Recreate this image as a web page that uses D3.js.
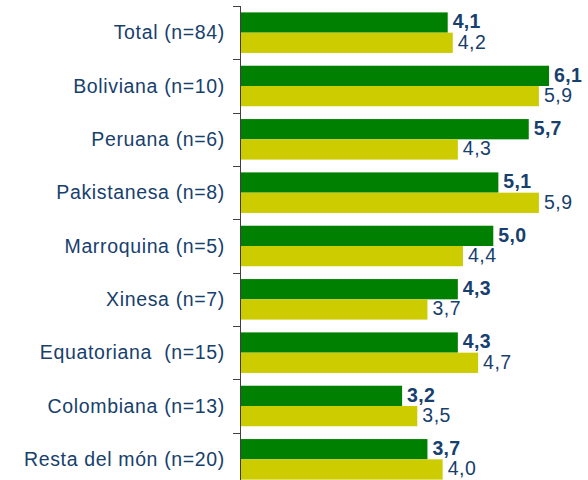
<!DOCTYPE html>
<html>
<head>
<meta charset="utf-8">
<script src="https://cdn.jsdelivr.net/npm/d3@7"></script>
<style>
  body { margin: 0; background: #fff; }
  text { font-family: "Liberation Sans", Arial, sans-serif; white-space: pre; }
</style>
</head>
<body>
<svg id="chart" width="588" height="480"></svg>
<script>
'use strict';

var categories = ["Total (n=84)", "Boliviana (n=10)", "Peruana (n=6)", "Pakistanesa (n=8)",
    "Marroquina (n=5)", "Xinesa (n=7)", "Equatoriana  (n=15)", "Colombiana (n=13)",
    "Resta del món (n=20)"];
var seriesA = [4.1, 6.1, 5.7, 5.1, 5.0, 4.3, 4.3, 3.2, 3.7];
var seriesB = [4.2, 5.9, 4.3, 5.9, 4.4, 3.7, 4.7, 3.5, 4.0];

var green = "#008000";
var yellow = "#cccc00";
var textColor = "#17406d";

var svg = d3.select("#chart");
var x0 = 240;

var x = d3.scaleLinear().domain([0, 7]).range([x0, x0 + 7 * 50.66]);
var y = d3.scaleBand().domain(categories).range([6, 486])
    .paddingInner(0.24).paddingOuter(0.12);
var sub = d3.scaleBand().domain(["a", "b"]).range([0, y.bandwidth()]);

var fmt = function(v) { return v.toFixed(1).replace(".", ","); };

var rows = categories.map(function(c, i) {
    return { cat: c, a: seriesA[i], b: seriesB[i] };
});

var g = svg.selectAll("g.row").data(rows).enter().append("g")
    .attr("class", "row")
    .attr("transform", function(d) { return "translate(0," + y(d.cat) + ")"; });

g.append("rect")
    .attr("x", x0).attr("y", sub("a"))
    .attr("width", function(d) { return x(d.a) - x0; })
    .attr("height", sub.bandwidth())
    .attr("fill", green);

g.append("rect")
    .attr("x", x0).attr("y", sub("b"))
    .attr("width", function(d) { return x(d.b) - x0; })
    .attr("height", sub.bandwidth())
    .attr("fill", yellow);

g.append("text")
    .attr("x", function(d) { return x(d.a) + 5; })
    .attr("y", sub("a") + sub.bandwidth() / 2 - 1)
    .attr("dy", "0.35em")
    .attr("font-size", 19.5).attr("font-weight", "bold")
    .attr("letter-spacing", 0.3)
    .attr("fill", textColor)
    .text(function(d) { return fmt(d.a); });

g.append("text")
    .attr("x", function(d) { return x(d.b) + 5; })
    .attr("y", sub("b") + sub.bandwidth() / 2 - 1)
    .attr("dy", "0.35em")
    .attr("font-size", 19.5)
    .attr("letter-spacing", 0.5)
    .attr("fill", textColor)
    .text(function(d) { return fmt(d.b); });

g.append("text")
    .attr("x", 225)
    .attr("y", y.bandwidth() / 2)
    .attr("dy", "0.35em")
    .attr("text-anchor", "end")
    .attr("font-size", 19.5)
    .attr("letter-spacing", 0.65)
    .attr("fill", textColor)
    .text(function(d) { return d.cat; });

// category axis line and ticks at band boundaries
svg.append("line")
    .attr("x1", x0 + 0.5).attr("x2", x0 + 0.5)
    .attr("y1", 6).attr("y2", 486)
    .attr("stroke", "#404040").attr("stroke-width", 1);

var ticks = d3.range(categories.length + 1).map(function(i) { return 6 + i * y.step(); });
svg.selectAll("line.tick").data(ticks).enter().append("line")
    .attr("class", "tick")
    .attr("x1", x0 - 7).attr("x2", x0 + 0.5)
    .attr("y1", function(t) { return Math.round(t) + 0.5; })
    .attr("y2", function(t) { return Math.round(t) + 0.5; })
    .attr("stroke", "#404040").attr("stroke-width", 1);
</script>
</body>
</html>
